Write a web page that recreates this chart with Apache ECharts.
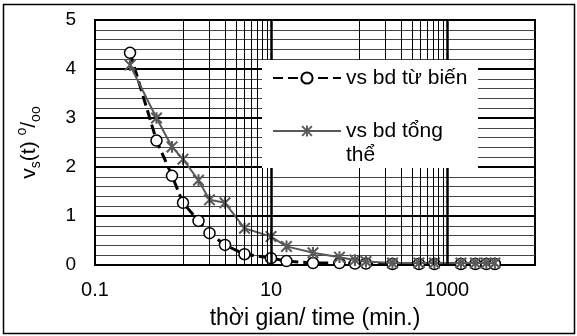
<!DOCTYPE html>
<html><head><meta charset="utf-8">
<script src="https://cdn.jsdelivr.net/npm/echarts@6/dist/echarts.min.js"></script>
<style>html,body{margin:0;padding:0;background:#fff}#c{width:577px;height:336px}</style>
</head><body><div id="c"></div>
<script>
// ---- data ----
const times = [0.25,0.5,0.75,1,1.5,2,3,5,10,15,30,60,90,120,240,480,720,1440,2100,2800,3500];
const creep = [4.33,2.54,1.82,1.27,0.9,0.65,0.41,0.22,0.14,0.08,0.04,0.04,0.03,0.03,0.02,0.02,0.02,0.02,0.02,0.02,0.02];
const total = [4.08,3.0,2.41,2.16,1.73,1.33,1.27,0.75,0.58,0.38,0.25,0.16,0.1,0.07,0.04,0.04,0.04,0.04,0.04,0.04,0.04];
const seriesNames = ['vs bd từ biến', 'vs bd tổng\nthể'];
const xTickLabels = [0.1, 10, 1000];
const xThinGrid = [1,2,3,4,5,6,7,8,9,100,200,300,400,500,600,700,800,900];
const xThickGrid = [10, 1000];
const xTitle = 'thời gian/ time (min.)';

const FONT = 'Liberation Sans, Arial, sans-serif';
const starPath = 'path://M8.25 0L11.75 0L11.75 20L8.25 20Z M-0.24 2.24L2.24 -0.24L20.24 17.76L17.76 20.24Z M17.76 -0.24L20.24 2.24L2.24 20.24L-0.24 17.76Z';

const chart = echarts.init(document.getElementById('c'), null, {renderer: 'canvas'});
const markData = xThinGrid.map(v => ({xAxis: v, lineStyle: {width: 1, color: '#000', type: 'solid'}}))
  .concat(xThickGrid.map(v => ({xAxis: v, lineStyle: {width: 2.5, color: '#000', type: 'solid'}})));

chart.setOption({
  animation: false,
  backgroundColor: '#fff',
  textStyle: {fontFamily: FONT},
  graphic: [{
    type: 'rect', shape: {x: 3.5, y: 4.5, width: 571, height: 329},
    style: {fill: 'none', stroke: '#000', lineWidth: 1.5}, z: 0
  }, {
    type: 'rect', shape: {x: 262, y: 60, width: 216, height: 108},
    style: {fill: '#fff'}, z: 50
  }],
  grid: {left: 95, top: 20, right: 42, bottom: 71, show: true, borderColor: '#000', borderWidth: 2, backgroundColor: 'transparent'},
  xAxis: {
    type: 'log', logBase: 10, min: 0.1, max: 10000,
    axisLine: {show: true, lineStyle: {color: '#000', width: 2}},
    axisTick: {show: false},
    splitLine: {show: false},
    axisLabel: {
      fontSize: 20, color: '#000', margin: 15, fontFamily: FONT,
      formatter: v => {
        for (const t of xTickLabels) { if (Math.abs(Math.log10(v) - Math.log10(t)) < 1e-6) return String(t); }
        return '';
      }
    },
    name: xTitle, nameLocation: 'middle', nameGap: 42,
    nameTextStyle: {fontSize: 23, color: '#000', fontFamily: FONT}
  },
  yAxis: {
    type: 'value', min: 0, max: 5, interval: 1,
    axisLine: {show: true, lineStyle: {color: '#000', width: 2}},
    axisTick: {show: false},
    axisLabel: {fontSize: 19, color: '#000', margin: 19, fontFamily: FONT},
    splitLine: {show: true, lineStyle: {color: '#000', width: 2}},
    minorTick: {show: false, splitNumber: 5},
    minorSplitLine: {show: true, lineStyle: {color: '#444', width: 1}},
    name: '{n|v}{sub|s}{n|(t) }{sup|o}{n|/}{sub|oo}',
    nameLocation: 'middle', nameRotate: 90, nameGap: 52,
    nameTextStyle: {
      color: '#000', fontFamily: FONT,
      rich: {
        n: {fontSize: 21, lineHeight: 28, fontFamily: FONT, color: '#000'},
        sub: {fontSize: 14, verticalAlign: 'bottom', lineHeight: 16, fontFamily: FONT, color: '#000'},
        sup: {fontSize: 14, verticalAlign: 'top', lineHeight: 16, fontFamily: FONT, color: '#000'}
      }
    }
  },
  legend: {
    orient: 'vertical', left: 262, top: 60, z: 60,
    padding: [6, 8, 4, 10], itemGap: 5, itemWidth: 68, itemHeight: 14,
    textStyle: {fontSize: 21, lineHeight: 24, color: '#000', fontFamily: FONT},
    formatter: name => (name.indexOf('\n') >= 0 ? '\n' + name : name),
    data: [{name: seriesNames[0]}, {name: seriesNames[1]}]
  },
  series: [
    {
      type: 'line', name: '_grid', data: [], z: 1, silent: true,
      markLine: {silent: true, symbol: ['none', 'none'], label: {show: false}, animation: false, data: markData}
    },
    {
      type: 'line', name: seriesNames[0], z: 3,
      data: times.map((t, i) => [t, creep[i]]),
      symbol: 'circle', symbolSize: 11,
      itemStyle: {color: '#fff', borderColor: '#000', borderWidth: 1.5},
      lineStyle: {color: '#000', width: 3, type: [10, 5]}
    },
    {
      type: 'line', name: seriesNames[1], z: 4,
      data: times.map((t, i) => [t, total[i]]),
      symbol: starPath, symbolSize: 12,
      itemStyle: {color: '#595959'},
      lineStyle: {color: '#595959', width: 2}
    }
  ]
});
</script></body></html>
